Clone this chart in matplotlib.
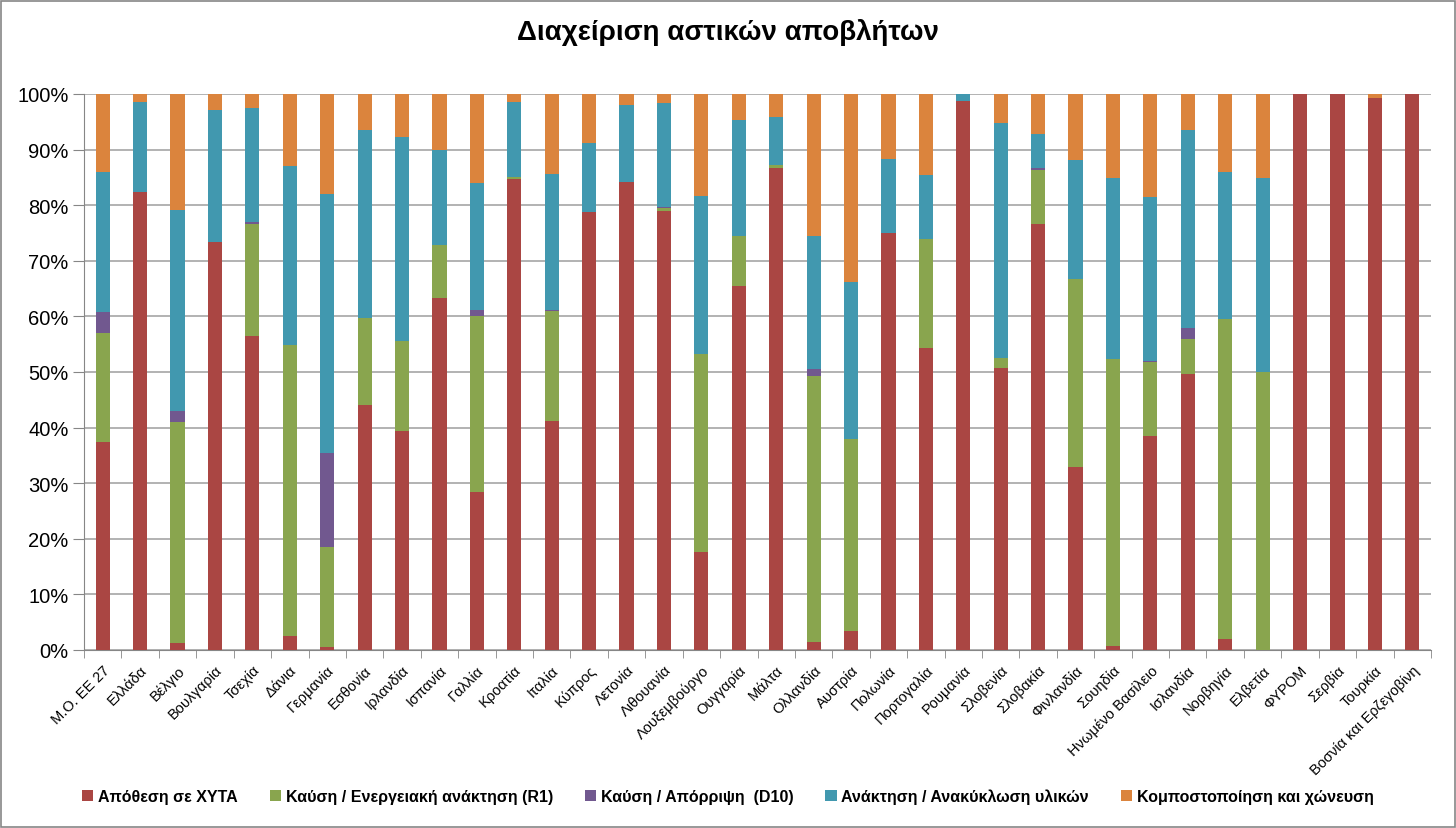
# Διαχείριση αστικών αποβλήτων - 100% stacked bars

import numpy as np
import matplotlib.pyplot as plt
from matplotlib.patches import Rectangle

plt.rcParams['font.family'] = ['Liberation Sans', 'DejaVu Sans']

countries = ['Μ.Ο. ΕΕ 27', 'Ελλάδα', 'Βέλγιο', 'Βουλγαρία', 'Τσεχία', 'Δάνια', 'Γερμανία',
             'Εσθονία', 'Ιρλανδία', 'Ισπανία', 'Γαλλία', 'Κροατία', 'Ιταλία', 'Κύπρος',
             'Λετονία', 'Λιθουανία', 'Λουξεμβούργο', 'Ουγγαρία', 'Μάλτα', 'Ολλανδία',
             'Αυστρία', 'Πολωνία', 'Πορτογαλία', 'Ρουμανία', 'Σλοβενία', 'Σλοβακία',
             'Φινλανδία', 'Σουηδία', 'Ηνωμένο Βασίλειο', 'Ισλανδία', 'Νορβηγία', 'Ελβετία',
             'ΦΥΡΟΜ', 'Σερβία', 'Τουρκία', 'Βοσνία και Ερζεγοβίνη']

# ποσοστά (%) ανά κατηγορία διαχείρισης
landfill = [37.5, 82.3, 1.2, 73.3, 56.5, 2.5, 0.5, 44.0, 39.3, 63.3, 28.5, 84.8, 41.1, 78.8,
            84.2, 79.0, 17.6, 65.4, 86.7, 1.5, 3.5, 75.0, 54.4, 98.7, 50.8, 76.7,
            32.9, 0.8, 38.5, 49.6, 2.0, 0.0, 100.0, 100.0, 99.2, 100.0]
energy_r1 = [19.5, 0.0, 39.8, 0.0, 20.2, 52.3, 18.0, 15.8, 16.2, 9.5, 31.6, 0.2, 19.9, 0.0,
             0.0, 0.5, 35.7, 9.1, 0.5, 47.8, 34.5, 0.0, 19.6, 0.0, 1.7, 9.6,
             33.9, 51.6, 13.3, 6.4, 57.5, 50.0, 0.0, 0.0, 0.0, 0.0]
disposal_d10 = [3.8, 0.0, 2.0, 0.0, 0.3, 0.0, 16.9, 0.0, 0.0, 0.0, 1.1, 0.0, 0.2, 0.0,
                0.0, 0.1, 0.0, 0.0, 0.0, 1.2, 0.0, 0.0, 0.0, 0.0, 0.0, 0.4,
                0.0, 0.0, 0.2, 2.0, 0.0, 0.0, 0.0, 0.0, 0.0, 0.0]
recycling = [25.2, 16.2, 36.2, 23.9, 20.5, 32.2, 46.6, 33.7, 36.7, 17.2, 22.8, 13.5, 24.4, 12.4,
             13.8, 18.7, 28.4, 20.9, 8.6, 24.0, 28.2, 13.3, 11.5, 1.3, 42.2, 6.1,
             21.4, 32.5, 29.5, 35.6, 26.5, 34.9, 0.0, 0.0, 0.0, 0.0]
composting = [14.0, 1.5, 20.8, 2.8, 2.5, 13.0, 18.0, 6.5, 7.8, 10.0, 16.0, 1.5, 14.4, 8.8,
              2.0, 1.7, 18.3, 4.6, 4.2, 25.5, 33.8, 11.7, 14.5, 0.0, 5.3, 7.2,
              11.8, 15.1, 18.5, 6.4, 14.0, 15.1, 0.0, 0.0, 0.8, 0.0]

series = [
    ('Απόθεση σε ΧΥΤΑ', landfill, '#AA4643'),
    ('Καύση / Ενεργειακή ανάκτηση (R1)', energy_r1, '#89A54E'),
    ('Καύση / Απόρριψη  (D10)', disposal_d10, '#71588F'),
    ('Ανάκτηση / Ανακύκλωση υλικών', recycling, '#4198AF'),
    ('Κομποστοποίηση και χώνευση', composting, '#DB843D'),
]

fig = plt.figure(figsize=(14.56, 8.29), dpi=100)
ax = fig.add_axes([84 / 1456, 1 - 651 / 829, (1431 - 84) / 1456, (651 - 95) / 829])

x = np.arange(len(countries))
bottom = np.zeros(len(countries))
for name, vals, col in series:
    v = np.array(vals) / 100.0
    ax.bar(x, v, width=0.38, bottom=bottom, color=col, label=name, zorder=3)
    bottom += v

ax.set_xlim(-0.5, len(countries) - 0.5)
ax.set_ylim(0, 1)
ax.set_yticks(np.arange(0, 1.01, 0.1))
ax.set_yticklabels([f'{int(round(t * 100))}%' for t in np.arange(0, 1.01, 0.1)], fontsize=14.5)
ax.yaxis.grid(True, color='#A6A6A6', linewidth=1.2, zorder=0)
ax.tick_params(axis='y', length=8, color='#868686', pad=3)

ax.set_xticks(x)
ax.set_xticklabels(countries, rotation=45, ha='right', rotation_mode='anchor', fontsize=10.5)
ax.tick_params(axis='x', length=0, pad=9)
ax.set_xticks(np.arange(-0.5, len(countries), 1), minor=True)
ax.tick_params(axis='x', which='minor', length=6, color='#868686')

for s in ['top', 'right']:
    ax.spines[s].set_visible(False)
ax.spines['left'].set_color('#868686')
ax.spines['bottom'].set_color('#868686')

fig.suptitle('Διαχείριση αστικών αποβλήτων', y=1 - 33 / 829, va='center',
             fontsize=20, fontweight='bold')

fig.legend(loc='center', bbox_to_anchor=(0.5, 1 - 797 / 829), ncol=5, frameon=False,
           handlelength=0.7, handleheight=0.7, handletextpad=0.3, columnspacing=2.0,
           prop={'weight': 'bold', 'size': 11.5})

fig.patches.append(Rectangle((0.001, 0.001), 0.998, 0.997, transform=fig.transFigure,
                             fill=False, edgecolor='#868686', linewidth=1.2))

fig.savefig('out.png', dpi=100)
